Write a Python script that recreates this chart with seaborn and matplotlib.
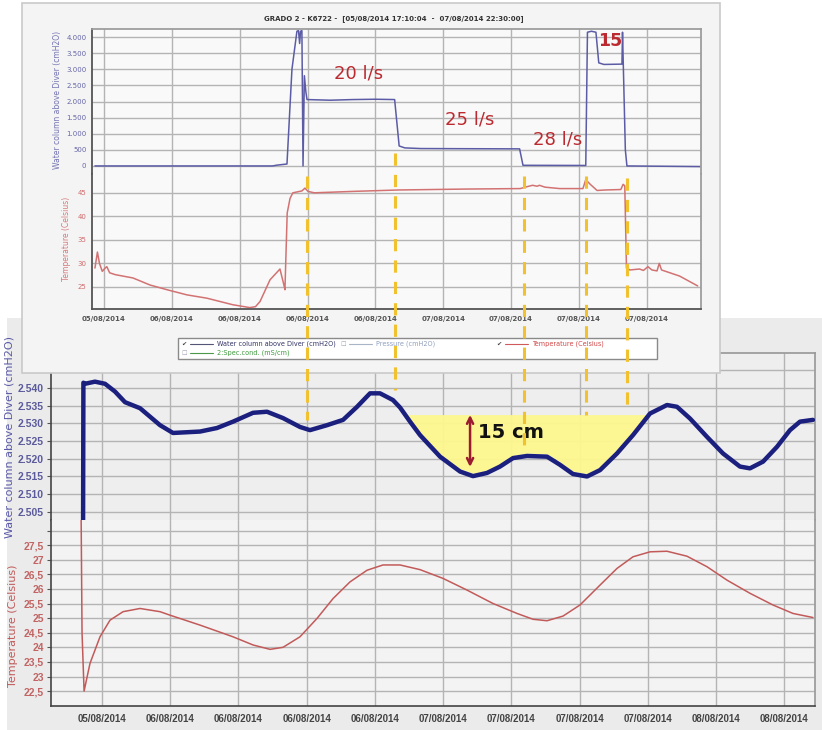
import numpy as np
import pandas as pd
import matplotlib
matplotlib.use("Agg")
import matplotlib.pyplot as plt
import seaborn as sns
from matplotlib.patches import Rectangle
from matplotlib.lines import Line2D
import matplotlib.transforms as mtransforms

# ---------------- data (x = hours since 05/08/2014 00:00) ----------------
top_water_h = [17.2, 32.9, 33.3, 33.8, 34.18, 34.62, 35.06, 35.2, 35.3, 35.38, 35.5, 35.6,
               35.72, 35.85, 35.95, 38.0, 40.0, 42.0, 43.7, 44.1, 44.6, 46.0, 50.0, 54.75,
               55.05, 60.6, 60.75, 61.1, 61.5, 61.75, 62.2, 63.8, 63.85, 64.1, 64.24, 70.7]
top_water_v = [0, 0, 25, 45, 60, 3000, 4180, 4200, 3800, 4180, 4200, 0,
               2800, 2300, 2060, 2040, 2060, 2070, 2060, 620, 560, 540, 535, 530,
               20, 15, 4150, 4180, 4150, 3200, 3150, 3160, 4150, 500, 0, -20]

top_temp_h = [17.2, 17.42, 17.6, 17.85, 18.1, 18.25, 18.5, 19.0, 20.56, 22.07, 23.57, 25.34,
              27.1, 29.4, 30.9, 31.4, 31.8, 32.68, 33.56, 33.9, 34.0, 34.2, 34.45, 34.7,
              35.5, 35.77, 36.04, 36.6, 40.0, 44.0, 50.0, 54.8, 55.4, 55.9, 56.3, 56.5,
              57.0, 58.3, 60.35, 60.6, 61.0, 61.6, 62.3, 63.7, 63.9, 64.05, 64.2, 64.5,
              65.35, 65.7, 66.1, 66.45, 66.9, 67.1, 67.3, 68.9, 70.5]
top_temp_v = [29.0, 32.4, 30.0, 28.3, 29.0, 29.3, 28.0, 27.6, 26.9, 25.4, 24.4, 23.3,
              22.6, 21.2, 20.6, 20.8, 21.9, 26.5, 28.8, 25.5, 24.4, 40.7, 43.8, 45.0,
              45.4, 46.0, 45.3, 45.0, 45.3, 45.6, 45.8, 45.9, 46.3, 46.6, 46.4, 46.6,
              46.2, 45.9, 45.9, 47.8, 46.8, 45.5, 45.6, 45.7, 46.8, 46.5, 29.0, 28.6,
              28.8, 28.5, 29.3, 28.6, 28.4, 30.0, 28.6, 27.3, 25.2]

bot_water_h = [16.33, 16.36, 16.5, 17.38, 18.26, 19.14, 20.02, 21.34, 23.10, 24.24, 26.62,
               28.11, 29.52, 31.28, 32.51, 33.92, 35.41, 36.29, 37.79, 39.20, 40.43, 41.57,
               42.45, 43.59, 44.21, 45.09, 45.97, 47.73, 49.49, 50.63, 51.86, 53.00, 54.15,
               55.38, 57.14, 58.28, 59.42, 60.66, 61.80, 63.29, 64.70, 66.20, 67.69, 68.57,
               69.71, 71.21, 72.62, 74.11, 74.99, 76.14, 77.37, 78.51, 79.39, 80.53]
bot_water_v = [2.500, 2.5415, 2.5412, 2.5418, 2.5412, 2.5390, 2.5360, 2.5343, 2.5295, 2.5273,
               2.5277, 2.5287, 2.5305, 2.5330, 2.5333, 2.5315, 2.5290, 2.5281, 2.5295, 2.5310,
               2.5347, 2.5385, 2.5385, 2.5366, 2.5345, 2.5305, 2.5267, 2.5206, 2.5164, 2.5151,
               2.5160, 2.5178, 2.5202, 2.5208, 2.5206, 2.5183, 2.5157, 2.5150, 2.5168, 2.5215,
               2.5267, 2.5328, 2.5352, 2.5347, 2.5314, 2.5262, 2.5215, 2.5178, 2.5173, 2.5192,
               2.5234, 2.5281, 2.5305, 2.5310]

bot_temp_h = [16.15, 16.24, 16.42, 16.94, 17.82, 18.70, 19.85, 21.34, 23.10, 23.98, 26.62,
              29.52, 31.28, 32.78, 33.92, 35.41, 36.91, 38.32, 39.81, 41.31, 42.71, 44.21,
              45.97, 47.99, 50.10, 52.39, 54.50, 55.91, 57.14, 58.55, 60.04, 61.80, 63.29,
              64.70, 66.20, 67.69, 69.45, 71.21, 72.97, 74.99, 77.01, 78.77, 80.53]
bot_temp_v = [29.0, 24.5, 22.5, 23.45, 24.36, 24.93, 25.22, 25.33, 25.22, 25.10, 24.76,
              24.36, 24.08, 23.93, 24.00, 24.36, 24.99, 25.67, 26.24, 26.64, 26.82, 26.82,
              26.66, 26.36, 25.96, 25.50, 25.16, 24.96, 24.91, 25.07, 25.45, 26.13, 26.70,
              27.10, 27.27, 27.29, 27.12, 26.76, 26.30, 25.85, 25.45, 25.16, 25.02]

# flow-rate change instants (yellow dashed lines)
event_h = [36.0, 43.8, 55.1, 60.6, 64.2]

# tick positions / labels
top_x_ticks = [18, 24, 30, 36, 42, 48, 54, 60, 66]
top_x_labels = ["05/08/2014", "06/08/2014", "06/08/2014", "06/08/2014", "06/08/2014",
                "07/08/2014", "07/08/2014", "07/08/2014", "07/08/2014"]
bot_x_ticks = [18, 24, 30, 36, 42, 48, 54, 60, 66, 72, 78]
bot_x_labels = ["05/08/2014", "06/08/2014", "06/08/2014", "06/08/2014", "06/08/2014",
                "07/08/2014", "07/08/2014", "07/08/2014", "07/08/2014", "08/08/2014",
                "08/08/2014"]
top_w_ticks = [0, 500, 1000, 1500, 2000, 2500, 3000, 3500, 4000]
top_w_labels = ["0", "500", "1.000", "1.500", "2.000", "2.500", "3.000", "3.500", "4.000"]
top_t_ticks = [25, 30, 35, 40, 45]
top_t_labels = ["25", "30", "35", "40", "45"]
bot_w_ticks = [2.505, 2.510, 2.515, 2.520, 2.525, 2.530, 2.535, 2.540, 2.545]
bot_w_labels = ["2.505", "2.510", "2.515", "2.520", "2.525", "2.530", "2.535", "2.540", ""]
bot_t_ticks = [22.5, 23, 23.5, 24, 24.5, 25, 25.5, 26, 26.5, 27, 27.5, 28]
bot_t_labels = ["22,5", "23", "23,5", "24", "24,5", "25", "25,5", "26", "26,5", "27", "27,5", ""]

flow_text = ["20 l/s", "25 l/s", "28 l/s", "15"]
flow_text_h = [40.5, 50.3, 58.1, 62.75]
flow_text_v = [2860, 1430, 810, 3880]

title_top = "GRADO 2 - K6722 -  [05/08/2014 17:10:04  -  07/08/2014 22:30:00]"

# ---------------- figure ----------------
sns.set_theme(style="white")
plt.rcParams['font.family'] = ['DejaVu Sans']
W, H = 822, 730
fig = plt.figure(figsize=(W / 100, H / 100), dpi=100)
fig.patch.set_facecolor("white")


def rect(x0, y0, x1, y1):
    return [x0 / W, 1 - y1 / H, (x1 - x0) / W, (y1 - y0) / H]


def fy(y):
    return 1 - y / H


GRID = "#b4b4b4"

# ---- background panel of the lower chart ----
fig.add_artist(Rectangle((7 / W, 0), 815 / W, fy(318), transform=fig.transFigure,
                         facecolor="#ebebeb", edgecolor="none", zorder=-5))

axw = fig.add_axes(rect(51, 353, 815, 520))
axt = fig.add_axes(rect(51, 520, 815, 706), sharex=axw)
for a in (axw, axt):
    a.set_zorder(0)

axw.set_facecolor("#eeeeee")
axt.set_facecolor("#f3f3f3")

dfw = pd.DataFrame({"h": bot_water_h, "v": bot_water_v})
dft = pd.DataFrame({"h": bot_temp_h, "v": bot_temp_v})

# yellow highlighted area (drop of water level)
wh = np.array(bot_water_h)
wv = np.array(bot_water_v)
fill_top = 2.5325
axw.fill_between(wh, wv + 0.0008, fill_top, where=(wv + 0.0008 < fill_top) & (wh > 44) & (wh < 66),
                 interpolate=True, color="#fdf78e", alpha=0.95, zorder=1, linewidth=0)

sns.lineplot(data=dfw, x="h", y="v", ax=axw, estimator=None, sort=False,
             color="#1b1f7e", linewidth=3.2, zorder=3)
sns.lineplot(data=dft, x="h", y="v", ax=axt, estimator=None, sort=False,
             color="#c25a5a", linewidth=1.1, zorder=3)

axw.set_xlim(13.51, 80.71)
axw.set_ylim(2.5027, 2.5499)
axt.set_ylim(21.99, 28.36)

for a in (axw, axt):
    a.set_xticks(bot_x_ticks)
    a.grid(True, color=GRID, linewidth=1.0)
    a.set_axisbelow(True)
    for s in ("top", "right"):
        a.spines[s].set_color("#9a9a9a")
    for s in ("left", "bottom"):
        a.spines[s].set_color("#444444")
        a.spines[s].set_linewidth(1.2)
axw.spines["bottom"].set_visible(False)
axt.spines["top"].set_visible(False)

axw.set_yticks(bot_w_ticks)
axw.set_yticklabels(bot_w_labels)
axt.set_yticks(bot_t_ticks)
axt.set_yticklabels(bot_t_labels)
axw.tick_params(axis="y", labelsize=7.5, labelcolor="#5a5a9c", length=3, width=0.8,
                color="#555555", left=True, pad=2)
axt.tick_params(axis="y", labelsize=7.5, labelcolor="#c26464", length=3, width=0.8,
                color="#555555", left=True, pad=2)
axw.tick_params(axis="x", labelbottom=False, length=0)
axt.set_xticklabels(bot_x_labels)
axt.tick_params(axis="x", labelsize=7, labelcolor="#444444", length=0, pad=6)
for lab in axw.get_yticklabels() + axt.get_yticklabels() + axt.get_xticklabels():
    lab.set_family("Liberation Sans")
    lab.set_fontweight("bold")

axw.set_xlabel("")
axt.set_xlabel("")
axw.set_ylabel("Water column above Diver (cmH2O)", color="#5a5aa8", fontsize=8)
axw.yaxis.set_label_coords(-0.048, 0.5)
axt.set_ylabel("Temperature (Celsius)", color="#c25a5a", fontsize=8)
axt.yaxis.set_label_coords(-0.043, 0.43)

# 15 cm arrow and label
axw.annotate("", xy=(50.37, 2.5324), xytext=(50.37, 2.5177),
             arrowprops=dict(arrowstyle="<->", color="#9b1b30", lw=1.8,
                             mutation_scale=11, shrinkA=0, shrinkB=0), zorder=5)
axw.text(51.1, 2.5273, "15 cm", fontsize=14, fontweight="bold", color="#111111",
         va="center", ha="left", zorder=6)

# ---- overlay panel of the upper chart ----
fig.add_artist(Rectangle((22 / W, fy(373)), 698 / W, 370 / H, transform=fig.transFigure,
                         facecolor="#f4f4f4", edgecolor="#c9c9c9", linewidth=1.2, zorder=1))

tw = fig.add_axes(rect(92, 29, 701, 174))
tt = fig.add_axes(rect(92, 174, 701, 309), sharex=tw)
for a in (tw, tt):
    a.set_zorder(2)
    a.set_facecolor("#f9f9f9")

dtw = pd.DataFrame({"h": top_water_h, "v": top_water_v})
dtt = pd.DataFrame({"h": top_temp_h, "v": top_temp_v})
sns.lineplot(data=dtw, x="h", y="v", ax=tw, estimator=None, sort=False,
             color="#5c5ca6", linewidth=1.1)
sns.lineplot(data=dtt, x="h", y="v", ax=tt, estimator=None, sort=False,
             color="#d27272", linewidth=1.1)

tw.set_xlim(16.94, 70.79)
tw.set_ylim(-250, 4250)
tt.set_ylim(20.3, 49.0)
for a in (tw, tt):
    a.set_xticks(top_x_ticks)
    a.grid(True, color=GRID, linewidth=1.0)
    a.set_axisbelow(True)
    for s in ("top", "right"):
        a.spines[s].set_color("#9a9a9a")
    for s in ("left", "bottom"):
        a.spines[s].set_color("#555555")
        a.spines[s].set_linewidth(1.3)
    a.set_xlabel("")
tw.spines["bottom"].set_visible(False)
tt.spines["top"].set_visible(False)

tw.set_yticks(top_w_ticks)
tw.set_yticklabels(top_w_labels)
tt.set_yticks(top_t_ticks)
tt.set_yticklabels(top_t_labels)
tw.tick_params(axis="y", labelsize=5, labelcolor="#6565a8", length=0, pad=4)
tt.tick_params(axis="y", labelsize=5, labelcolor="#d06a6a", length=0, pad=4)
tw.tick_params(axis="x", labelbottom=False, length=0)
tt.set_xticklabels(top_x_labels)
tt.tick_params(axis="x", labelsize=5, labelcolor="#555555", length=0, pad=5)
for lab in tt.get_xticklabels():
    lab.set_fontweight("bold")

tw.set_ylabel("Water column above Diver (cmH2O)", color="#7474b4", fontsize=5.5)
tw.yaxis.set_label_coords(-0.049, 0.51)
tt.set_ylabel("Temperature (Celsius)", color="#d47a7a", fontsize=5.5)
tt.yaxis.set_label_coords(-0.035, 0.52)

for txt, hx, vy in zip(flow_text, flow_text_h, flow_text_v):
    bold = txt == "15"
    tw.text(hx, vy, txt, ha="center", va="center", color="#bb2a30",
            fontsize=12.5 if bold else 13, fontweight="bold" if bold else "normal",
            clip_on=False, zorder=6)

fig.text(394 / W, fy(19), title_top, ha="center", va="center", fontsize=5,
         fontweight="bold", color="#333333", zorder=3)

# legend box (manual, like the logger software)
fig.add_artist(Rectangle((178 / W, fy(359)), 479 / W, 21 / H, transform=fig.transFigure,
                         facecolor="white", edgecolor="#8a8a8a", linewidth=1.0, zorder=3))
legend_items = [
    ("\u2714", 184, 344, "#444444", "Water column above Diver (cmH2O)", "#333366"),
    ("\u2610", 343, 344, "#9aa0b0", "Pressure (cmH2O)", "#8fa0c0"),
    ("\u2714", 499, 344, "#444444", "Temperature (Celsius)", "#d04848"),
    ("\u2610", 184, 353, "#9aa0b0", "2:Spec.cond. (mS/cm)", "#3c9a3c"),
]
line_cols = ["#555577", "#a8b4c8", "#d05a5a", "#4a9a4a"]
for (mark, x0, y0, mc, lab, lc), lcol in zip(legend_items, line_cols):
    fig.text(x0 / W, fy(y0), mark, fontsize=4.5, color=mc, ha="center", va="center", zorder=4)
    fig.add_artist(Line2D([(x0 + 6) / W, (x0 + 29) / W], [fy(y0), fy(y0)],
                          transform=fig.transFigure, color=lcol, lw=0.8, zorder=4))
    fig.text((x0 + 33) / W, fy(y0), lab, fontsize=4.7, color=lc, ha="left", va="center",
             zorder=4)

# yellow dashed event lines linking both charts
y_start = [176, 153, 176, 176, 178]
y_end = [420, 390, 450, 415, 410]
blend = mtransforms.blended_transform_factory(axw.transData, fig.transFigure)
for hx, y0, y1 in zip(event_h, y_start, y_end):
    fig.add_artist(Line2D([hx, hx], [fy(y0), fy(y1)], transform=blend, color="#f2c12e",
                          lw=2.2, linestyle=(0, (4, 3)), zorder=10))

fig.savefig("out.png", dpi=100)
